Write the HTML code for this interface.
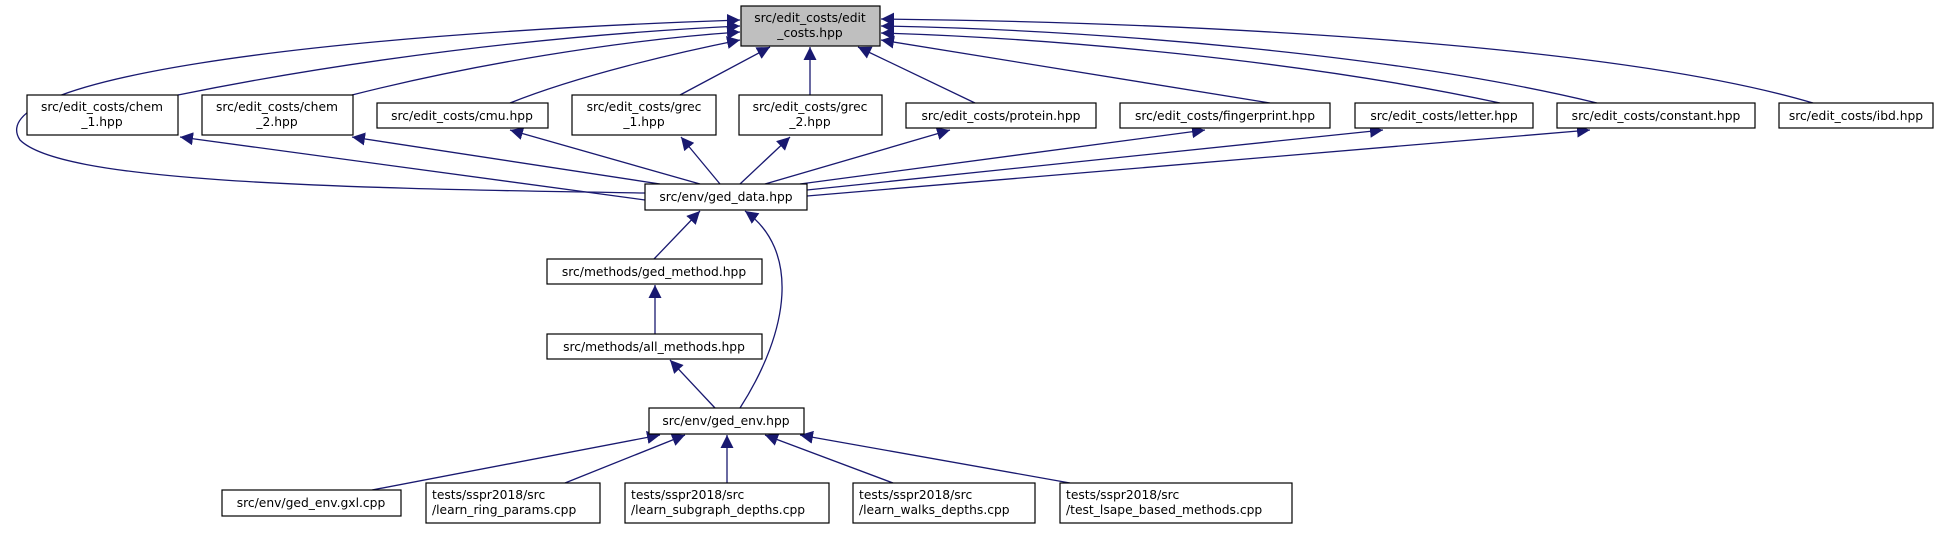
<!DOCTYPE html>
<html><head><meta charset="utf-8"><style>
html,body{margin:0;padding:0;background:#fff;}
svg text{font-family:"DejaVu Sans","Liberation Sans",sans-serif;font-size:12.3px;fill:#000;}
</style></head><body>
<svg width="1948" height="529" viewBox="0 0 1948 529" xmlns="http://www.w3.org/2000/svg">
<defs><marker id="a" viewBox="0 0 10 10" refX="10" refY="5" markerWidth="13" markerHeight="13" markerUnits="userSpaceOnUse" orient="auto"><path d="M0,0L10,5L0,10z" fill="#191970"/></marker></defs>
<g fill="none" stroke="#191970" stroke-width="1.3" marker-end="url(#a)">
<path d="M645,193 C300,188 60,180 20,140 C-20,80 300,35 740,20"/>
<path d="M178,95 C350,60 550,35 740,26"/>
<path d="M352,95 C470,65 620,40 740,32"/>
<path d="M510,103 C580,75 680,52 740,40"/>
<path d="M680,95 L770,47"/>
<path d="M810,95 L810,47"/>
<path d="M975,103 L858,47"/>
<path d="M1270,103 L881,40"/>
<path d="M1500,103 C1300,60 1050,38 881,33"/>
<path d="M1597,103 C1400,55 1100,30 881,26"/>
<path d="M1813,103 C1600,40 1150,22 881,19"/>
<path d="M645,200 L180,137"/>
<path d="M660,184 L352,137"/>
<path d="M700,184 L510,130"/>
<path d="M720,184 L681,137"/>
<path d="M740,184 L790,137"/>
<path d="M765,184 L950,130"/>
<path d="M800,184 L1205,130"/>
<path d="M807,190 L1383,130"/>
<path d="M807,196 L1590,130"/>
<path d="M654,259 L700,211"/>
<path d="M655,334 L655,285"/>
<path d="M715,408 L670,360"/>
<path d="M740,408 C790,330 800,250 745,211"/>
<path d="M372,490 L660,435"/>
<path d="M565,483 L685,435"/>
<path d="M727,483 L727,435"/>
<path d="M893,483 L765,435"/>
<path d="M1070,483 L800,435"/>
</g>
<g stroke="#000" stroke-width="1.2" fill="#fff">
<rect x="741" y="6" width="139" height="40" fill="#bfbfbf"/>
<rect x="27" y="95" width="151" height="40"/>
<rect x="202" y="95" width="151" height="40"/>
<rect x="377" y="103" width="171" height="25"/>
<rect x="572" y="95" width="144" height="40"/>
<rect x="739" y="95" width="143" height="40"/>
<rect x="906" y="103" width="190" height="25"/>
<rect x="1120" y="103" width="210" height="25"/>
<rect x="1355" y="103" width="178" height="25"/>
<rect x="1557" y="103" width="198" height="25"/>
<rect x="1779" y="103" width="154" height="25"/>
<rect x="645" y="184" width="162" height="26"/>
<rect x="547" y="259" width="215" height="25"/>
<rect x="547" y="334" width="215" height="25"/>
<rect x="649" y="408" width="155" height="26"/>
<rect x="222" y="490" width="179" height="26"/>
<rect x="426" y="483" width="174" height="40"/>
<rect x="625" y="483" width="204" height="40"/>
<rect x="853" y="483" width="182" height="40"/>
<rect x="1060" y="483" width="232" height="40"/>
</g>
<g text-anchor="middle">
<text x="810" y="22">src/edit_costs/edit</text><text x="810" y="37">_costs.hpp</text>
<text x="102" y="111">src/edit_costs/chem</text><text x="102" y="126">_1.hpp</text>
<text x="277" y="111">src/edit_costs/chem</text><text x="277" y="126">_2.hpp</text>
<text x="462" y="120">src/edit_costs/cmu.hpp</text>
<text x="644" y="111">src/edit_costs/grec</text><text x="644" y="126">_1.hpp</text>
<text x="810" y="111">src/edit_costs/grec</text><text x="810" y="126">_2.hpp</text>
<text x="1001" y="120">src/edit_costs/protein.hpp</text>
<text x="1225" y="120">src/edit_costs/fingerprint.hpp</text>
<text x="1444" y="120">src/edit_costs/letter.hpp</text>
<text x="1656" y="120">src/edit_costs/constant.hpp</text>
<text x="1856" y="120">src/edit_costs/ibd.hpp</text>
<text x="726" y="201">src/env/ged_data.hpp</text>
<text x="654" y="276">src/methods/ged_method.hpp</text>
<text x="654" y="351">src/methods/all_methods.hpp</text>
<text x="726" y="425">src/env/ged_env.hpp</text>
<text x="311" y="507">src/env/ged_env.gxl.cpp</text>
</g>
<g>
<text x="432" y="499">tests/sspr2018/src</text><text x="432" y="514">/learn_ring_params.cpp</text>
<text x="631" y="499">tests/sspr2018/src</text><text x="631" y="514">/learn_subgraph_depths.cpp</text>
<text x="859" y="499">tests/sspr2018/src</text><text x="859" y="514">/learn_walks_depths.cpp</text>
<text x="1066" y="499">tests/sspr2018/src</text><text x="1066" y="514">/test_lsape_based_methods.cpp</text>
</g>
</svg>
</body></html>
